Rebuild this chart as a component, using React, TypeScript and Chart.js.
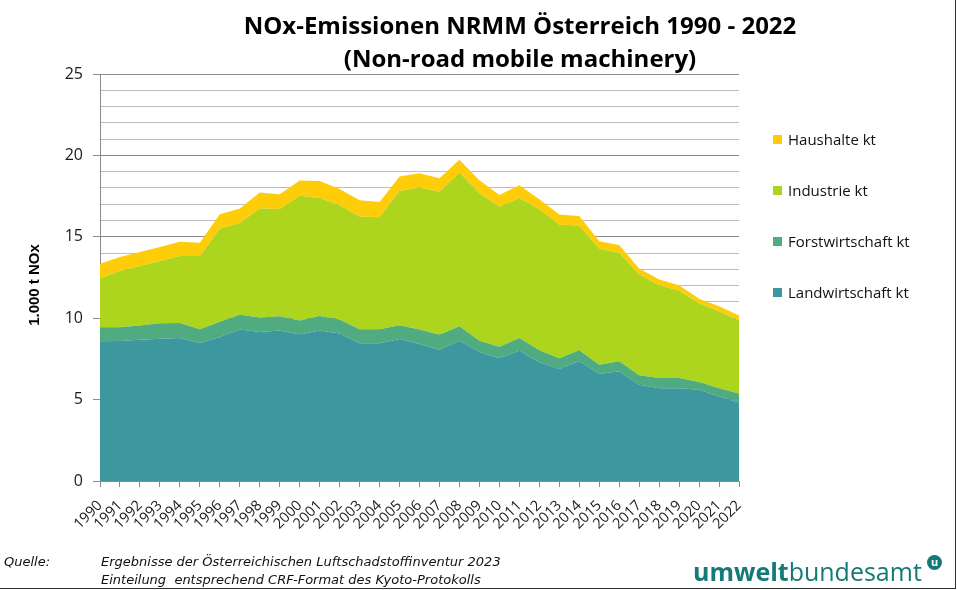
import React, { useEffect, useRef } from "react";
import { Chart, registerables } from "chart.js";

Chart.register(...registerables);

const years: string[] = [
  "1990", "1991", "1992", "1993", "1994", "1995", "1996", "1997", "1998", "1999",
  "2000", "2001", "2002", "2003", "2004", "2005", "2006", "2007", "2008", "2009",
  "2010", "2011", "2012", "2013", "2014", "2015", "2016", "2017", "2018", "2019",
  "2020", "2021", "2022",
];

const landwirtschaft: number[] = [
  8.58, 8.60, 8.68, 8.74, 8.79, 8.48, 8.85, 9.30, 9.16, 9.24,
  9.00, 9.24, 9.06, 8.46, 8.46, 8.73, 8.42, 8.06, 8.62, 7.93,
  7.54, 8.00, 7.29, 6.88, 7.37, 6.57, 6.74, 5.91, 5.70, 5.70,
  5.60, 5.19, 4.82,
];
const forstwirtschaft: number[] = [
  0.87, 0.85, 0.87, 0.95, 0.92, 0.84, 0.93, 0.91, 0.88, 0.88,
  0.86, 0.90, 0.86, 0.86, 0.86, 0.84, 0.88, 0.93, 0.89, 0.69,
  0.71, 0.78, 0.74, 0.66, 0.66, 0.57, 0.61, 0.58, 0.62, 0.62,
  0.48, 0.51, 0.55,
];
const industrie: number[] = [
  3.00, 3.45, 3.65, 3.82, 4.11, 4.50, 5.72, 5.63, 6.70, 6.58,
  7.66, 7.25, 7.02, 6.92, 6.88, 8.25, 8.73, 8.77, 9.44, 9.06,
  8.59, 8.61, 8.66, 8.20, 7.67, 7.13, 6.67, 6.21, 5.71, 5.38,
  4.84, 4.73, 4.49,
];
const haushalte: number[] = [
  0.90, 0.86, 0.87, 0.86, 0.88, 0.82, 0.89, 0.90, 0.98, 0.92,
  0.94, 1.03, 0.99, 1.01, 0.93, 0.89, 0.88, 0.84, 0.78, 0.80,
  0.72, 0.78, 0.62, 0.63, 0.58, 0.45, 0.48, 0.36, 0.35, 0.33,
  0.27, 0.31, 0.30,
];

const seriesNames: string[] = ["Landwirtschaft kt", "Forstwirtschaft kt", "Industrie kt", "Haushalte kt"];
const seriesColors: string[] = ["#3c979e", "#50ac80", "#add51e", "#ffcc0a"];
const seriesValues: number[][] = [landwirtschaft, forstwirtschaft, industrie, haushalte];

const titleLines: string[] = ["NOx-Emissionen NRMM Österreich 1990 - 2022", "(Non-road mobile machinery)"];
const yAxisTitle = "1.000 t NOx";
const sourceLabel = "Quelle:";
const sourceLines: string[] = [
  "Ergebnisse der Österreichischen Luftschadstoffinventur 2023",
  "Einteilung  entsprechend CRF-Format des Kyoto-Protokolls",
];

export default function App() {
  const canvasRef = useRef<HTMLCanvasElement | null>(null);

  useEffect(() => {
    const canvas = canvasRef.current;
    if (!canvas) return;
    const chart = new Chart(canvas, {
      type: "line",
      data: {
        labels: years,
        datasets: seriesValues.map((vals, i) => ({
          label: seriesNames[i],
          data: vals,
          backgroundColor: seriesColors[i],
          borderColor: seriesColors[i],
          borderWidth: 0,
          pointRadius: 0,
          pointHoverRadius: 0,
          tension: 0,
          fill: i === 0 ? "origin" : "-1",
        })),
      },
      options: {
        responsive: false,
        animation: false,
        layout: { padding: { left: 0, right: 218, top: 74, bottom: 0 } },
        plugins: {
          legend: { display: false },
          tooltip: { enabled: false },
          title: { display: false },
        },
        scales: {
          x: {
            type: "category",
            offset: false,
            afterFit: (s: any) => {
              s.height = 109;
            },
            grid: {
              drawOnChartArea: false,
              drawTicks: true,
              tickLength: 6,
              color: "#8a8a8a",
            },
            border: { color: "#8a8a8a" },
            ticks: {
              autoSkip: false,
              minRotation: 45,
              maxRotation: 45,
              padding: 10,
              color: "#1a1a1a",
              font: { family: "'Open Sans'", size: 14.5 },
            },
          },
          y: {
            stacked: true,
            min: 0,
            max: 25,
            afterFit: (s: any) => {
              s.width = 100;
            },
            grid: {
              color: (ctx: any) => (ctx.tick && ctx.tick.value % 5 === 0 ? "#8c8c8c" : "#bcbcbc"),
              tickColor: (ctx: any) => (ctx.tick && ctx.tick.value % 5 === 0 ? "#8c8c8c" : "rgba(0,0,0,0)"),
              tickLength: 7,
              lineWidth: 1,
            },
            border: { color: "#8a8a8a" },
            ticks: {
              stepSize: 1,
              autoSkip: false,
              padding: 10,
              color: "#1a1a1a",
              font: { family: "'Open Sans'", size: 16 },
              callback: (v: any) => (Number(v) % 5 === 0 ? String(v) : ""),
            },
          },
        },
      },
    });
    return () => chart.destroy();
  }, []);

  const legendOrder = [3, 2, 1, 0];

  return (
    <div
      style={{
        position: "absolute",
        left: 0,
        top: 0,
        width: 957,
        height: 590,
        background: "#fff",
        overflow: "hidden",
        fontFamily: "'Open Sans', sans-serif",
      }}
    >
      <canvas ref={canvasRef} width={957} height={590} style={{ position: "absolute", left: 0, top: 0 }} />
      {/* frame */}
      <div
        style={{
          position: "absolute",
          left: 0,
          top: 0,
          width: 956,
          height: 589,
          boxSizing: "border-box",
          borderRight: "1px solid #333",
          borderBottom: "1px solid #333",
          pointerEvents: "none",
        }}
      />
      {/* title */}
      {titleLines.map((t, i) => (
        <div
          key={i}
          style={{
            position: "absolute",
            left: 120,
            width: 800,
            top: 8 + i * 33,
            textAlign: "center",
            fontWeight: 700,
            fontSize: 24,
            lineHeight: "33px",
            color: "#000",
            whiteSpace: "pre",
          }}
        >
          {t}
        </div>
      ))}
      {/* y axis title */}
      <div
        style={{
          position: "absolute",
          left: 33,
          top: 285,
          transform: "translate(-50%, -50%) rotate(-90deg)",
          fontFamily: "'Liberation Sans', Arial, sans-serif",
          fontWeight: 700,
          fontSize: 15,
          whiteSpace: "pre",
          color: "#000",
        }}
      >
        {yAxisTitle}
      </div>
      {/* legend */}
      {legendOrder.map((idx, k) => (
        <div
          key={idx}
          style={{
            position: "absolute",
            left: 773,
            top: 139 + k * 51 - 11,
            height: 22,
            display: "flex",
            alignItems: "center",
            whiteSpace: "pre",
            fontSize: 15,
            color: "#111",
          }}
        >
          <span
            style={{
              display: "inline-block",
              width: 9,
              height: 9,
              background: seriesColors[idx],
              marginRight: 6,
            }}
          />
          {seriesNames[idx]}
        </div>
      ))}
      {/* footer */}
      <div
        style={{
          position: "absolute",
          left: 4,
          top: 553,
          fontFamily: "'DejaVu Sans', sans-serif",
          fontStyle: "italic",
          fontSize: 13,
          lineHeight: "18px",
          color: "#111",
        }}
      >
        {sourceLabel}
      </div>
      {sourceLines.map((t, i) => (
        <div
          key={i}
          style={{
            position: "absolute",
            left: 101,
            top: 553 + i * 18,
            fontFamily: "'DejaVu Sans', sans-serif",
            fontStyle: "italic",
            fontSize: 13,
            lineHeight: "18px",
            color: "#111",
            whiteSpace: "pre",
          }}
        >
          {t}
        </div>
      ))}
      {/* logo */}
      <div
        style={{
          position: "absolute",
          left: 693,
          top: 556,
          fontSize: 25,
          lineHeight: "30px",
          color: "#137a78",
          whiteSpace: "pre",
        }}
      >
        <span style={{ fontWeight: 700 }}>umwelt</span>
        <span style={{ fontWeight: 400 }}>bundesamt</span>
      </div>
      <div
        style={{
          position: "absolute",
          left: 927,
          top: 555,
          width: 15,
          height: 15,
          borderRadius: "50%",
          background: "#137a78",
          color: "#fff",
          fontSize: 11,
          fontWeight: 700,
          lineHeight: "14px",
          textAlign: "center",
        }}
      >
        u
      </div>
    </div>
  );
}
